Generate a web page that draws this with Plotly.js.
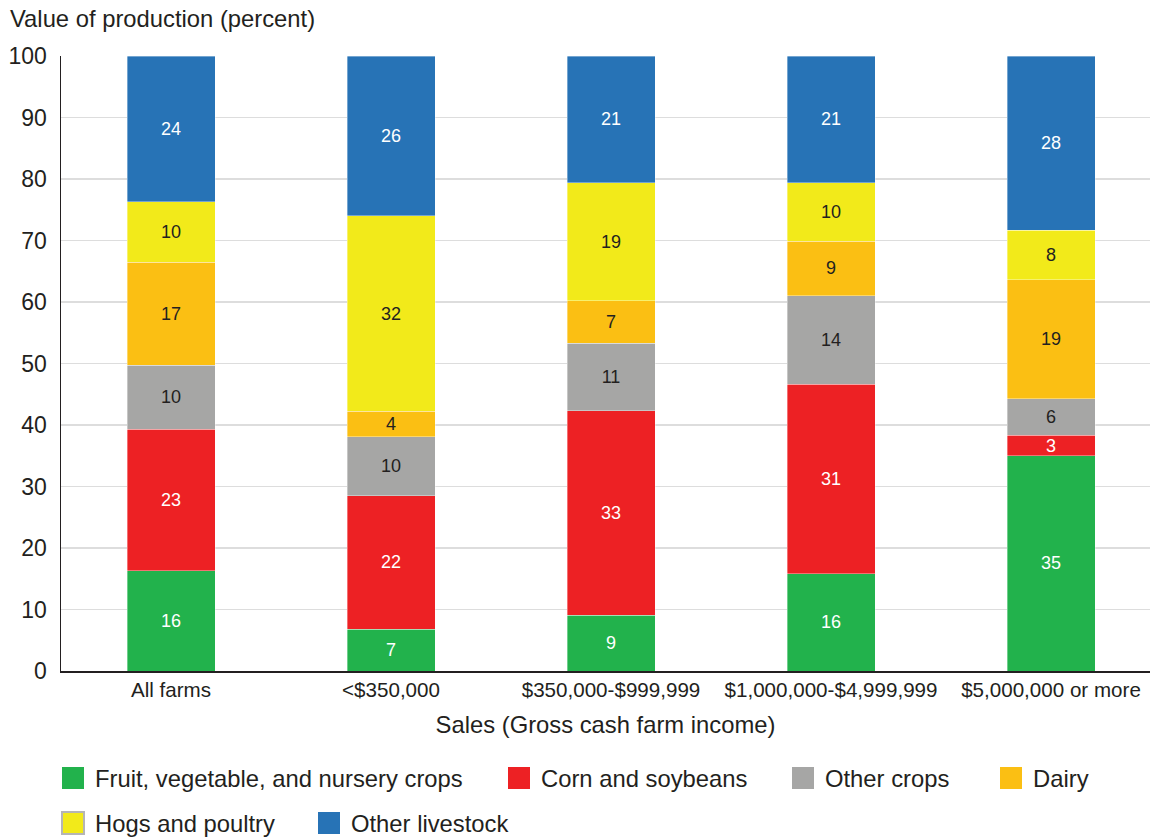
<!DOCTYPE html>
<html>
<head>
<meta charset="utf-8">
<script src="https://cdn.plot.ly/plotly-3.0.1.min.js"></script>
<style>html,body{margin:0;padding:0;background:#fff;}#chart{width:1154px;height:837px;}</style>
</head>
<body>
<div id="chart"></div>
<script>
// ---- Data ----
const categories = ["All farms", "<$350,000", "$350,000-$999,999", "$1,000,000-$4,999,999", "$5,000,000 or more"];
const seriesNames = ["Fruit, vegetable, and nursery crops", "Corn and soybeans", "Other crops", "Dairy", "Hogs and poultry", "Other livestock"];
const fruitVeg   = [16.3, 6.8, 9.1, 15.8, 35.0];
const cornSoy    = [23.0, 21.7, 33.2, 30.8, 3.3];
const otherCrops = [10.4, 9.6, 11.0, 14.4, 6.0];
const dairy      = [16.8, 4.1, 6.9, 8.9, 19.3];
const hogsPoultry= [9.8, 31.8, 19.2, 9.5, 8.1];
const otherLive  = [23.7, 26.0, 20.6, 20.6, 28.3];
const yTicks = [0, 10, 20, 30, 40, 50, 60, 70, 80, 90, 100];

// ---- Styles ----
const seriesValues = [fruitVeg, cornSoy, otherCrops, dairy, hogsPoultry, otherLive];
const colors = ["#22b24c", "#ed2124", "#a6a6a5", "#fbbf13", "#f2ea1a", "#2773b6"];
const textColors = ["#ffffff", "#ffffff", "#231f20", "#231f20", "#231f20", "#ffffff"];
const FONT = "Liberation Sans, Arial, Helvetica, sans-serif";

const W = 1154, H = 837;
const L = 61, T = 56, R = 4, B = 166;
const PW = W - L - R, PH = H - T - B;

const traces = seriesNames.map((name, i) => ({
  type: "bar",
  name: name,
  x: categories,
  y: seriesValues[i],
  marker: {color: colors[i], line: {color: "rgba(255,255,255,0.6)", width: 0.6}},
  texttemplate: "%{y:.0f}",
  textposition: "inside",
  insidetextanchor: "middle",
  constraintext: "none",
  textangle: 0,
  textfont: {family: FONT, size: 18, color: textColors[i]},
  hoverinfo: "skip",
  showlegend: false
}));

// manual legend (layout positions)
const legendPos = [[62, 778], [508, 778], [792, 778], [1000, 778], [62, 823], [318, 823]];
const px = v => (v - L) / PW;
const py = v => (H - B - v) / PH;
const shapes = [];
const annotations = [];
seriesNames.forEach((name, i) => {
  const [lx, ly] = legendPos[i];
  shapes.push({
    type: "rect", xref: "paper", yref: "paper",
    x0: px(lx), x1: px(lx + 22), y0: py(ly + 11), y1: py(ly - 11),
    fillcolor: colors[i],
    line: i === 4 ? {color: "#b5b5b5", width: 2} : {width: 0}
  });
  annotations.push({
    xref: "paper", yref: "paper", x: px(lx + 31), y: py(ly),
    xanchor: "left", yanchor: "middle", showarrow: false,
    text: name, font: {family: FONT, size: 23.8, color: "#231f20"}
  });
});

const layout = {
  width: W, height: H,
  margin: {l: L, r: R, t: T, b: B, pad: 0},
  paper_bgcolor: "#ffffff", plot_bgcolor: "#ffffff",
  barmode: "stack",
  bargap: 0.6,
  font: {family: FONT, size: 22, color: "#231f20"},
  title: {
    text: "Value of production (percent)",
    xref: "container", yref: "container",
    x: 10 / W, xanchor: "left", y: 1 - 19 / H, yanchor: "middle",
    font: {family: FONT, size: 23.8, color: "#231f20"}
  },
  xaxis: {
    type: "category",
    range: [-0.5, 4.45],
    showline: true, linecolor: "#231f20", linewidth: 1.5,
    ticks: "", showgrid: false,
    tickfont: {family: FONT, size: 20.6, color: "#231f20"},
    title: {text: "Sales (Gross cash farm income)", font: {family: FONT, size: 23.8, color: "#231f20"}, standoff: 16}
  },
  yaxis: {
    range: [0, 100],
    tickvals: yTicks,
    ticktext: yTicks.map(String),
    showline: true, linecolor: "#231f20", linewidth: 1.5,
    ticks: "", showgrid: true, gridcolor: "#dddddd", gridwidth: 1.5,
    zeroline: false,
    ticklabelstandoff: 8,
    tickfont: {family: FONT, size: 23, color: "#231f20"}
  },
  shapes: shapes,
  annotations: annotations,
  showlegend: false
};

Plotly.newPlot("chart", traces, layout, {displayModeBar: false, staticPlot: true});
</script>
</body>
</html>
